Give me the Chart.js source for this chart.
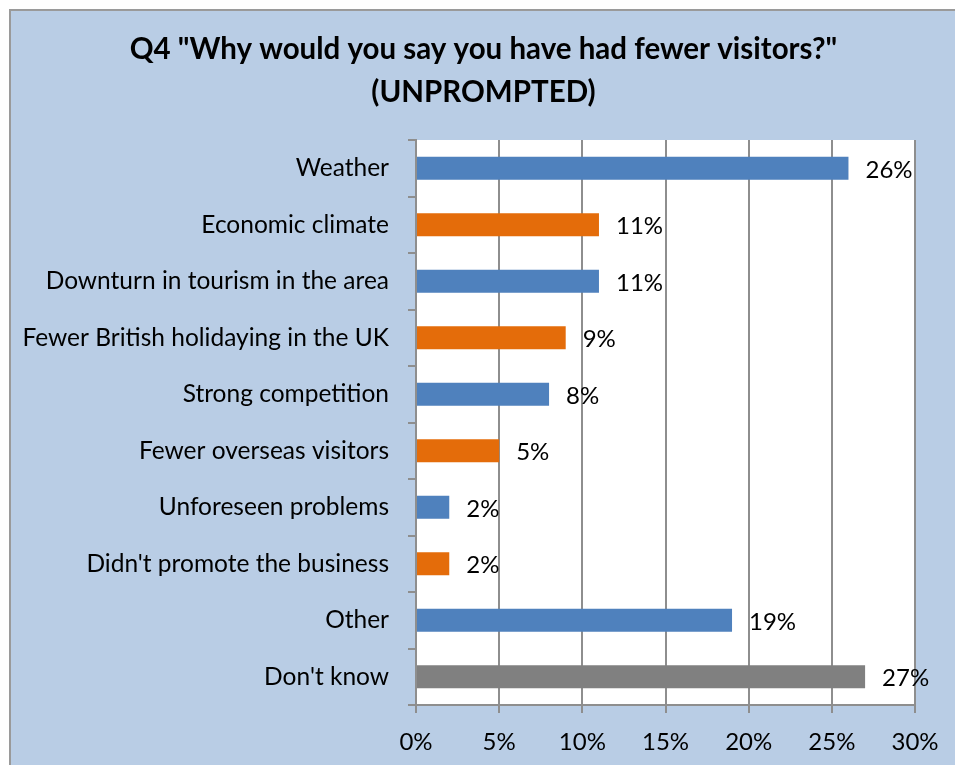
<!DOCTYPE html>
<html>
<head>
<meta charset="utf-8">
<script src="https://cdn.jsdelivr.net/npm/chart.js@4.4.1/dist/chart.umd.min.js"></script>
<style>
  html, body { margin: 0; padding: 0; background: #ffffff; }
  #wrap { width: 955px; height: 765px; position: relative; }
</style>
</head>
<body>
<div id="wrap"><canvas id="c" width="955" height="765"></canvas></div>
<script>
// Reasons given for fewer visitors (share of respondents, %)
const categories = [
  "Weather",
  "Economic climate",
  "Downturn in tourism in the area",
  "Fewer British holidaying in the UK",
  "Strong competition",
  "Fewer overseas visitors",
  "Unforeseen problems",
  "Didn't promote the business",
  "Other",
  "Don't know"
];
const shares = [26, 11, 11, 9, 8, 5, 2, 2, 19, 27];
const barColors = [
  "#4F81BD", "#E46C0A", "#4F81BD", "#E46C0A", "#4F81BD",
  "#E46C0A", "#4F81BD", "#E46C0A", "#4F81BD", "#808080"
];
const titleLines = ['Q4 "Why would you say you have had fewer visitors?"', '(UNPROMPTED)'];

const FONT = "Lato, 'Open Sans', 'DejaVu Sans', sans-serif";
const GRID = "#8E8E8E";

// Light blue chart panel with a thin grey frame, white plot area, centred title
const panelPlugin = {
  id: 'panel',
  beforeDraw(chart) {
    const ctx = chart.ctx;
    const a = chart.chartArea;
    ctx.save();
    ctx.fillStyle = '#B9CDE5';
    ctx.fillRect(10, 10, chart.width, chart.height);
    ctx.strokeStyle = '#9A9A9A';
    ctx.lineWidth = 2;
    ctx.beginPath();
    ctx.moveTo(10, chart.height + 2);
    ctx.lineTo(10, 10);
    ctx.lineTo(chart.width + 2, 10);
    ctx.stroke();
    ctx.fillStyle = '#FFFFFF';
    ctx.fillRect(a.left, a.top, a.right - a.left, a.bottom - a.top);
    ctx.restore();
  },
  afterDraw(chart) {
    const ctx = chart.ctx;
    ctx.save();
    ctx.font = "bold 29.5px " + FONT;
    ctx.fillStyle = '#000000';
    ctx.textAlign = 'center';
    ctx.textBaseline = 'middle';
    const cx = (10 + chart.width) / 2 + 1;
    titleLines.forEach((line, i) => ctx.fillText(line, cx, 49 + i * 43));
    ctx.restore();
  }
};

// Percentage labels just past the end of each bar
const valueLabels = {
  id: 'valueLabels',
  afterDatasetsDraw(chart) {
    const ctx = chart.ctx;
    const meta = chart.getDatasetMeta(0);
    ctx.save();
    ctx.font = "24px " + FONT;
    ctx.fillStyle = '#000000';
    ctx.textAlign = 'left';
    ctx.textBaseline = 'middle';
    meta.data.forEach((bar, i) => {
      ctx.fillText(shares[i] + '%', bar.x + 17, bar.y + 2);
    });
    ctx.restore();
  }
};

new Chart(document.getElementById('c'), {
  type: 'bar',
  data: {
    labels: categories,
    datasets: [{
      data: shares,
      backgroundColor: barColors,
      borderWidth: 0,
      barPercentage: 0.41,
      categoryPercentage: 1.0
    }]
  },
  options: {
    indexAxis: 'y',
    responsive: false,
    animation: false,
    devicePixelRatio: 1,
    layout: { padding: { top: 140, right: 40, bottom: 0, left: 10 } },
    plugins: {
      legend: { display: false },
      tooltip: { enabled: false },
      title: { display: false }
    },
    scales: {
      x: {
        min: 0,
        max: 30,
        ticks: {
          stepSize: 5,
          color: '#000000',
          font: { family: FONT, size: 24 },
          padding: 15,
          callback: v => v + '%'
        },
        grid: { color: GRID, lineWidth: 2, tickLength: 8 },
        border: { color: GRID, width: 2 },
        afterFit(scale) { scale.height = 60; }
      },
      y: {
        ticks: {
          color: '#000000',
          font: { family: FONT, size: 24.5 },
          padding: 19,
          autoSkip: false
        },
        grid: { drawOnChartArea: false, offset: true, color: GRID, lineWidth: 2, tickLength: 8 },
        border: { color: GRID, width: 2 },
        afterFit(scale) { scale.width = 406; }
      }
    }
  },
  plugins: [panelPlugin, valueLabels]
});
</script>
</body>
</html>
